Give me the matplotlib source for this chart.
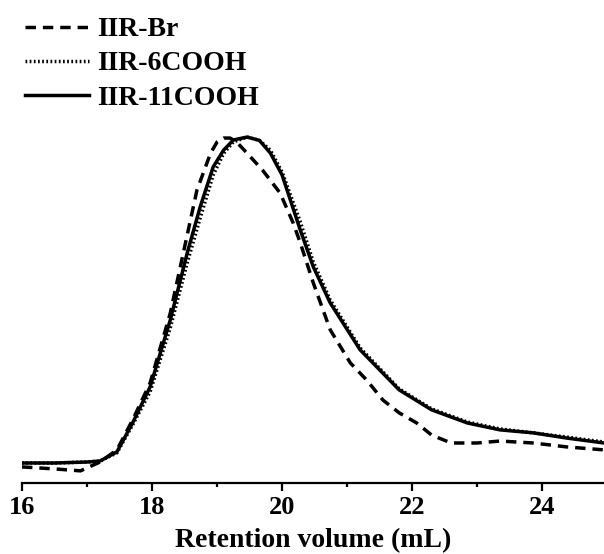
import matplotlib
matplotlib.use('Agg')
import matplotlib.pyplot as plt

# GPC traces (retention volume in mL, normalised signal)
br_x = [16.0, 16.5, 16.9, 17.2, 17.46, 17.7, 17.97, 18.28, 18.48, 18.69, 18.9, 19.0,
        19.1, 19.2, 19.3, 19.46, 19.7, 19.97, 20.17, 20.28, 20.48, 20.74, 21.05, 21.3,
        21.55, 21.8, 22.07, 22.3, 22.6, 23.0, 23.35, 23.86, 24.38, 24.95]
br_y = [-0.006, -0.012, -0.018, 0.009, 0.046, 0.137, 0.25, 0.463, 0.646, 0.838, 0.951, 0.985,
        0.997, 0.997, 0.985, 0.951, 0.899, 0.829, 0.738, 0.677, 0.555, 0.412, 0.311, 0.259,
        0.198, 0.159, 0.128, 0.091, 0.067, 0.067, 0.073, 0.067, 0.055, 0.046]

c6_x = [16.0, 16.5, 17.0, 17.2, 17.46, 17.7, 17.97, 18.28, 18.54, 18.74, 18.94, 19.1,
        19.25, 19.46, 19.65, 19.82, 20.0, 20.28, 20.48, 20.74, 21.2, 21.8, 22.3,
        22.85, 23.35, 23.86, 24.38, 24.95]
c6_y = [0.006, 0.006, 0.009, 0.012, 0.037, 0.122, 0.223, 0.418, 0.616, 0.753, 0.884, 0.95,
        0.985, 1.0, 0.99, 0.96, 0.893, 0.741, 0.619, 0.503, 0.357, 0.232, 0.171,
        0.131, 0.11, 0.098, 0.085, 0.07]

c11_x = [16.0, 16.5, 17.0, 17.2, 17.46, 17.7, 17.97, 18.28, 18.54, 18.74, 18.94, 19.1,
         19.25, 19.46, 19.65, 19.82, 20.0, 20.28, 20.48, 20.74, 21.2, 21.8, 22.3,
         22.85, 23.35, 23.86, 24.38, 24.95]
c11_y = [0.006, 0.006, 0.009, 0.012, 0.04, 0.128, 0.238, 0.442, 0.646, 0.787, 0.909, 0.96,
         0.991, 1.0, 0.99, 0.951, 0.884, 0.716, 0.604, 0.494, 0.351, 0.229, 0.168,
         0.128, 0.107, 0.098, 0.082, 0.067]

labels = ['IIR-Br', 'IIR-6COOH', 'IIR-11COOH']

plt.rcParams['font.family'] = ['Liberation Serif', 'DejaVu Serif']
plt.rcParams['font.weight'] = 'bold'

fig = plt.figure(figsize=(6.04, 5.54), dpi=100)
ax = fig.add_axes([22 / 604, 1 - 483 / 554, 582 / 604, 483 / 554])

ax.plot(br_x, br_y, color='black', lw=2.5, ls=(0, (3, 2)), label=labels[0])
ax.plot(c6_x, c6_y, color='black', lw=2.5, ls=(0, (0.5, 0.7)), label=labels[1])
ax.plot(c11_x, c11_y, color='black', lw=2.5, ls='-', label=labels[2])

ax.set_xlim(16, 24.95)
ax.set_ylim(-0.055, 1.418)

for s in ['top', 'right', 'left']:
    ax.spines[s].set_visible(False)
ax.spines['bottom'].set_linewidth(1.6)
ax.set_yticks([])
ax.set_xticks([16, 18, 20, 22, 24])
ax.set_xticks([17, 19, 21, 23], minor=True)
ax.tick_params(axis='x', which='major', length=5.5, width=1.6, labelsize=19, pad=4)
ax.tick_params(axis='x', which='minor', length=3, width=1.6)
for t in ax.get_xticklabels():
    t.set_fontweight('bold')

# axis title placed by its baseline so it sits clear of the tick labels
fig.text(313 / 604, 1 - 547 / 554, 'Retention volume (mL)', fontsize=20,
         fontweight='bold', ha='center', va='baseline')

ax.legend(loc='upper left', bbox_to_anchor=(25 / 604, 1 - 17 / 554),
          bbox_transform=fig.transFigure, frameon=False,
          prop={'size': 20, 'weight': 'bold'}, handlelength=2.3,
          handletextpad=0.3, labelspacing=0.31, borderaxespad=0, borderpad=0)

fig.savefig('out.png', dpi=100)
